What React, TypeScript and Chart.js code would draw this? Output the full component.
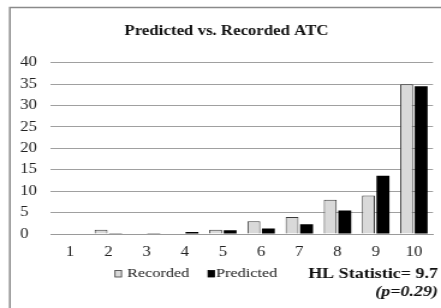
import React, { useEffect, useRef } from "react";
import { Chart, registerables } from "chart.js";

Chart.register(...registerables);

const categories = ["1", "2", "3", "4", "5", "6", "7", "8", "9", "10"];
const recorded = [0, 1, 0, 0, 1, 3, 4, 8, 9, 35];
const predicted = [0, 0.2, 0.2, 0.45, 0.85, 1.3, 2.3, 5.5, 13.6, 34.5];
const titleText = "Predicted vs. Recorded ATC";
const hlText = "HL Statistic= 9.7";
const pText = "(p=0.29)";

const FONT = "'Liberation Serif', 'Times New Roman', serif";
const W = 367;
const S = 441 / W;

const overlayPlugin = {
  id: "overlay",
  beforeDraw(chart: any) {
    const ctx = chart.ctx;
    ctx.save();
    ctx.fillStyle = "#ffffff";
    ctx.fillRect(0, 0, chart.width, chart.height);
    ctx.strokeStyle = "#8a8a8a";
    ctx.lineWidth = 1.5;
    ctx.strokeRect(8.2, 7.5, 1000, 1000);
    ctx.restore();
  },
  afterDraw(chart: any) {
    const ctx = chart.ctx;
    ctx.save();
    const items = [
      { ds: chart.data.datasets[0], bx: 115 / S, tx: 127 / S },
      { ds: chart.data.datasets[1], bx: 208 / S, tx: 216 / S },
    ];
    ctx.font = `13.5px ${FONT}`;
    ctx.textBaseline = "middle";
    ctx.textAlign = "left";
    for (const it of items) {
      ctx.fillStyle = it.ds.backgroundColor;
      ctx.fillRect(it.bx, 270.5, 6.5 / S, 6.5);
      ctx.strokeStyle = it.ds.borderColor;
      ctx.lineWidth = 0.8;
      ctx.strokeRect(it.bx, 270.5, 6.5 / S, 6.5);
      ctx.fillStyle = "#222";
      ctx.fillText(it.ds.label, it.tx, 273);
    }
    ctx.textAlign = "right";
    ctx.fillStyle = "#111";
    ctx.font = `bold 15px ${FONT}`;
    ctx.fillText(hlText, 438 / S, 274);
    ctx.font = `italic bold 15px ${FONT}`;
    ctx.fillText(pText, 438 / S, 292);
    ctx.restore();
  },
};

export default function App() {
  const ref = useRef<HTMLCanvasElement | null>(null);
  useEffect(() => {
    if (!ref.current) return;
    const chart = new Chart(ref.current, {
      type: "bar",
      data: {
        labels: categories,
        datasets: [
          {
            label: "Recorded",
            data: recorded,
            backgroundColor: "#d9d9d9",
            borderColor: "#3a3a3a",
            borderWidth: 1,
            categoryPercentage: 0.76,
            barPercentage: 0.89,
          },
          {
            label: "Predicted",
            data: predicted,
            backgroundColor: "#000000",
            borderColor: "#000000",
            borderWidth: 0,
            categoryPercentage: 0.76,
            barPercentage: 0.89,
          },
        ],
      },
      options: {
        animation: false,
        responsive: true,
        maintainAspectRatio: false,
        layout: { padding: { left: 20 / S, right: 441 / S - 433 / S, top: 0, bottom: 37.2 } },
        plugins: {
          legend: { display: false },
          tooltip: { enabled: false },
          title: {
            display: true,
            text: titleText,
            color: "#111",
            font: { family: FONT, size: 14, weight: "bold" },
            padding: { top: 23, bottom: 23 },
          },
        },
        scales: {
          x: {
            grid: { display: false, drawTicks: false },
            border: { display: true, color: "#9a9a9a" },
            ticks: { color: "#222", font: { family: FONT, size: 14 }, padding: 10, maxRotation: 0 },
          },
          y: {
            min: 0,
            max: 40,
            grid: { color: "#a0a0a0", drawTicks: false },
            border: { display: false },
            ticks: {
              stepSize: 5,
              color: "#222",
              font: { family: FONT, size: 14 },
              padding: (51 / S - 20 / S - 14) / 2,
              crossAlign: "far",
            },
          },
        },
      },
      plugins: [overlayPlugin],
    });
    return () => chart.destroy();
  }, []);
  return (
    <div
      style={{
        position: "absolute",
        left: 0,
        top: 0,
        width: W + "px",
        height: "308px",
        transform: `scaleX(${S})`,
        transformOrigin: "0 0",
      }}
    >
      <canvas ref={ref} />
    </div>
  );
}
